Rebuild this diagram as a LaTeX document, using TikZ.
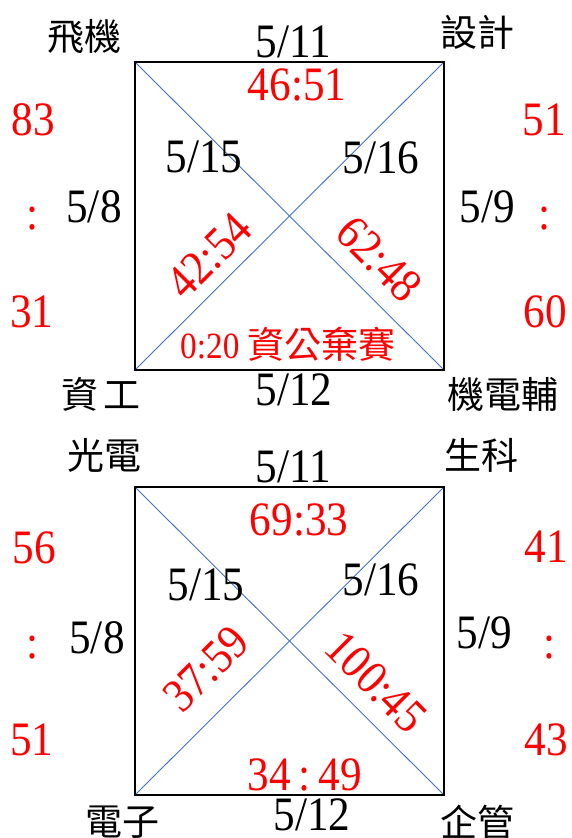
\documentclass[tikz,border=0pt]{standalone}
\usepackage{fontspec}
\setmainfont{Liberation Serif}
\newfontfamily\numfont[FakeStretch=0.9]{Liberation Serif}
\newfontfamily\cjkfont{Noto Sans CJK TC}
\usetikzlibrary{calc}
\definecolor{lineblue}{HTML}{4472C4}
\definecolor{scorered}{HTML}{FF0000}
\tikzset{
	datebox/.style={inner sep=0pt, anchor=base, font=\numfont\fontsize{48}{52}\selectfont},
	scorebox/.style={datebox, text=scorered},
	teambox/.style={inner sep=0pt, font=\cjkfont\fontsize{37}{40}\selectfont},
	framebox/.style={line width=2.2pt},
	crossline/.style={lineblue, line width=0.9pt},
}

\begin{document}
\begin{tikzpicture}[x=1pt, y=-1pt]
			%%%%% START %%%%%
			\useasboundingbox (0, 0) rectangle (571, 838);
			
			%%%%% TOP GROUP %%%%%
			\coordinate (aTL) at (135, 62);
			\coordinate (aTR) at (444, 62);
			\coordinate (aBR) at (444, 370);
			\coordinate (aBL) at (135, 370);
			\draw[crossline] (aTL) -- (aBR);
			\draw[crossline] (aBL) -- (aTR);
			\draw[framebox] (aTL) rectangle (aBR);
			
			\node[teambox] (feiji) at (84, 37) {飛機};
			\node[teambox] (sheji) at (477, 32) {設計};
			\node[teambox] (zigong) at (101, 394) {資\hspace{6pt}工};
			\node[teambox] (jidian) at (503, 394) {機電輔};
			
			\node[datebox] (aTop) at (293, 57) {5/11};
			\node[datebox] (aBot) at (294, 405) {5/12};
			\node[datebox] (aLeft) at (94, 222) {5/8};
			\node[datebox] (aRight) at (487, 222) {5/9};
			\node[datebox] (aUL) at (204, 172) {5/15};
			\node[datebox] (aUR) at (381, 173) {5/16};
			
			\node[scorebox] (aTopS) at (297, 100) {46:51};
			\node[scorebox] (aL1) at (33, 135) {83};
			\node[scorebox, anchor=center] (aLc) at (33, 219) {:};
			\node[scorebox] (aL2) at (32, 327) {31};
			\node[scorebox] (aR1) at (544, 135) {51};
			\node[scorebox, anchor=center] (aRc) at (544, 219) {:};
			\node[scorebox] (aR2) at (545, 327) {60};
			\node[scorebox, anchor=center, rotate=45] (aDiag1) at (209, 256) {42:54};
			\node[scorebox, anchor=center, rotate=-45] (aDiag2) at (379, 259) {62:48};
			\node[scorebox, font=\numfont\fontsize{37}{40}\selectfont] (aBotS) at (288, 358) {0:20 {\cjkfont 資公棄賽}};
			
			%%%%% BOTTOM GROUP %%%%%
			\coordinate (bTL) at (135, 487);
			\coordinate (bTR) at (444, 487);
			\coordinate (bBR) at (444, 795);
			\coordinate (bBL) at (135, 795);
			\draw[crossline] (bTL) -- (bBR);
			\draw[crossline] (bBL) -- (bTR);
			\draw[framebox] (bTL) rectangle (bBR);
			
			\node[teambox] (guangdian) at (104, 455) {光電};
			\node[teambox] (shengke) at (481, 455) {生科};
			\node[teambox] (dianzi) at (122, 822) {電子};
			\node[teambox] (qiguan) at (477, 822) {企管};
			
			\node[datebox] (bTop) at (293, 482) {5/11};
			\node[datebox] (bBot) at (312, 830) {5/12};
			\node[datebox] (bLeft) at (97, 653) {5/8};
			\node[datebox] (bRight) at (484, 648) {5/9};
			\node[datebox] (bUL) at (206, 600) {5/15};
			\node[datebox] (bUR) at (381, 595) {5/16};
			
			\node[scorebox] (bTopS) at (299, 535) {69:33};
			\node[scorebox] (bL1) at (34, 563) {56};
			\node[scorebox, anchor=center] (bLc) at (33, 648) {:};
			\node[scorebox] (bL2) at (32, 755) {51};
			\node[scorebox] (bR1) at (546, 562) {41};
			\node[scorebox, anchor=center] (bRc) at (549, 648) {:};
			\node[scorebox] (bR2) at (546, 755) {43};
			\node[scorebox, anchor=center, rotate=45] (bDiag1) at (206, 669) {37:59};
			\node[scorebox, anchor=center, rotate=-45] (bDiag2) at (376, 682) {100:45};
			\node[scorebox] (bBotS) at (305, 790) {34\,:\,49};
			%%%%% END %%%%%
\end{tikzpicture}
\end{document}
